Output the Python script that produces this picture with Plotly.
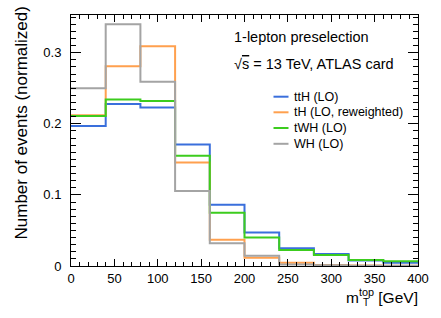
import plotly.graph_objects as go

edges = [0, 40, 80, 120, 160, 200, 240, 280, 320, 360, 400]
names = ["ttH (LO)", "tH (LO, reweighted)", "tWH (LO)", "WH (LO)"]
colors = ["#3a6fdc", "#ffa04e", "#3ccc1e", "#a4a4a4"]
ttH = [0.197, 0.228, 0.223, 0.171, 0.086, 0.047, 0.025, 0.017, 0.0077, 0.0047]
tH = [0.212, 0.281, 0.309, 0.1455, 0.037, 0.0117, 0.0047, 0.0015, 0.0008, 0.0004]
tWH = [0.211, 0.234, 0.232, 0.155, 0.075, 0.040, 0.0225, 0.0155, 0.0085, 0.0066]
WH = [0.250, 0.340, 0.259, 0.1056, 0.032, 0.0145, 0.002, 0.001, 0.0005, 0.0003]
series = [ttH, tH, tWH, WH]

FONT = "Liberation Sans, Arial, Helvetica, sans-serif"
W, H = 441, 318
L, R, T, B = 71, 23, 15, 52
pw, ph = W - L - R, H - T - B

def px(x):
    return (x - L) / pw

def py(y):
    return (H - B - y) / ph

fig = go.Figure()
for name, col, vals in zip(names, colors, series):
    fig.add_trace(go.Scatter(
        x=edges, y=vals + [vals[-1]], mode="lines", line=dict(shape="hv", color=col, width=2),
        name=name, showlegend=False, hoverinfo="skip"))

axis_common = dict(showgrid=False, zeroline=False, showline=True, linecolor="black", linewidth=1,
                   mirror="allticks", ticks="inside", tickcolor="black", automargin=False,
                   tickfont=dict(family=FONT, size=13, color="black"))
fig.update_xaxes(range=[0, 400], dtick=50, tick0=0, ticklen=7,
                 minor=dict(dtick=10, ticklen=4, ticks="inside", tickcolor="black"),
                 **axis_common)
fig.update_yaxes(range=[0, 0.353], dtick=0.1, tick0=0, ticklen=10,
                 minor=dict(dtick=0.01, ticklen=5, ticks="inside", tickcolor="black"),
                 ticklabelstandoff=6,
                 **axis_common)

ann = []
ann.append(dict(text="Number of events (normalized)", textangle=-90, xref="paper", yref="paper",
                x=px(21), y=py(5), xanchor="center", yanchor="top", showarrow=False,
                font=dict(family=FONT, size=17, color="black")))
ann.append(dict(text="m<sup>top</sup> [GeV]", xref="paper", yref="paper", x=px(420), y=py(296),
                xanchor="right", yanchor="middle", showarrow=False,
                font=dict(family=FONT, size=15.5, color="black")))
ann.append(dict(text="T", xref="paper", yref="paper", x=px(361), y=py(302),
                xanchor="left", yanchor="middle", showarrow=False,
                font=dict(family=FONT, size=10, color="black")))
ann.append(dict(text="1-lepton preselection", xref="paper", yref="paper", x=px(232), y=py(37),
                xanchor="left", yanchor="middle", showarrow=False,
                font=dict(family=FONT, size=14.5, color="black")))
ann.append(dict(text="√<span style='text-decoration:overline'>s</span> = 13 TeV, ATLAS card",
                xref="paper", yref="paper", x=px(232), y=py(63.5),
                xanchor="left", yanchor="middle", showarrow=False,
                font=dict(family=FONT, size=14.5, color="black")))

shapes = []
rows = [96.7, 112.3, 128, 143.8]
for name, col, yy in zip(names, colors, rows):
    shapes.append(dict(type="line", xref="paper", yref="paper", x0=px(273.5), x1=px(288.5),
                       y0=py(yy), y1=py(yy), line=dict(color=col, width=2)))
    ann.append(dict(text=name, xref="paper", yref="paper", x=px(291.5), y=py(yy),
                    xanchor="left", yanchor="middle", showarrow=False,
                    font=dict(family=FONT, size=12.5, color="black")))

fig.update_layout(width=W, height=H, margin=dict(l=L, r=R, t=T, b=B),
                  paper_bgcolor="white", plot_bgcolor="white",
                  annotations=ann, shapes=shapes, showlegend=False,
                  font=dict(family=FONT, color="black"))
fig.write_html("out.html", config={"displayModeBar": False},
               post_script="document.body.style.margin='0';document.body.style.padding='0';document.body.style.overflow='hidden';")
